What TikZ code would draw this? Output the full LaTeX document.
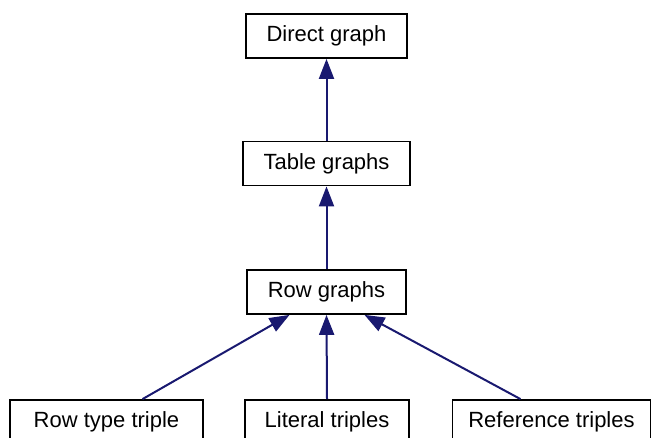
\documentclass[tikz,border=0pt]{standalone}
\usepackage{fontspec}
\setmainfont{Liberation Sans}
\usetikzlibrary{arrows.meta}
\definecolor{edgeblue}{HTML}{191970}
\begin{document}
\begin{tikzpicture}[x=1pt,y=1pt,
  box/.style={draw=black,line width=1.8pt,fill=white,rectangle,minimum height=44pt,inner sep=0pt,font=\fontsize{22pt}{26pt}\selectfont},
  edge/.style={draw=edgeblue,line width=2pt,-{Triangle[width=15pt,length=20pt]}}]
\useasboundingbox (0,0) rectangle (652,437);
\node[box,minimum width=161pt] (dg) at (326.5,401) {Direct graph};
\node[box,minimum width=167pt] (tg) at (326.5,273.5) {Table graphs};
\node[box,minimum width=159pt] (rg) at (326.5,145) {Row graphs};
\node[box,minimum width=193pt] (rtt) at (106.5,15) {Row type triple};
\node[box,minimum width=164pt] (lt) at (327,15) {Literal triples};
\node[box,minimum width=198pt] (rft) at (551.5,15) {Reference triples};
\draw[edge] (tg.north) -- (dg.south);
\draw[edge] (rg.north) -- (tg.south);
\draw[edge] (lt.north) -- (rg.south);
\draw[edge] ([xshift=36pt]rtt.north) -- ([xshift=-37pt]rg.south);
\draw[edge] ([xshift=-31pt]rft.north) -- ([xshift=38pt]rg.south);
\end{tikzpicture}
\end{document}
